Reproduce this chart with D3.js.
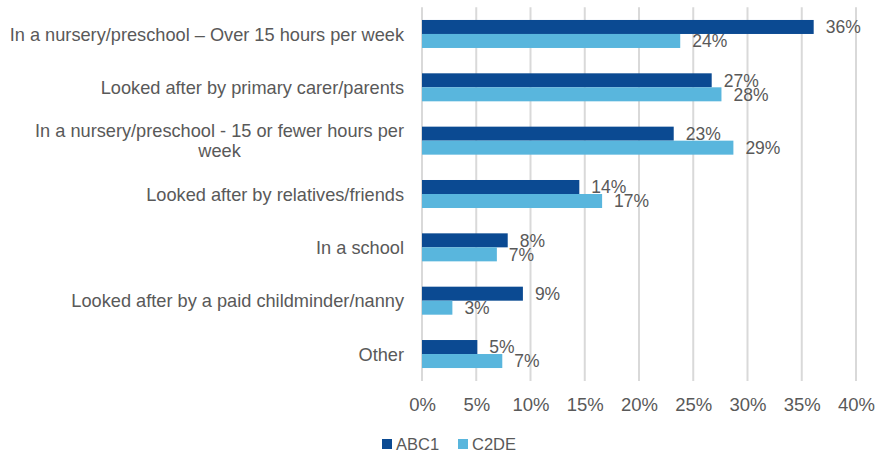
<!DOCTYPE html>
<html>
<head>
<meta charset="utf-8">
<script src="https://cdn.jsdelivr.net/npm/d3@7"></script>
<style>
  body { margin: 0; background: #fff; }
  svg text { font-family: "Liberation Sans", Arial, sans-serif; fill: #595959; }
</style>
</head>
<body>
<div id="chart"></div>
<script>
// categories, each as its label lines
var categories = [
  ["In a nursery/preschool \u2013 Over 15 hours per week"],
  ["Looked after by primary carer/parents"],
  ["In a nursery/preschool - 15 or fewer hours per", "week"],
  ["Looked after by relatives/friends"],
  ["In a school"],
  ["Looked after by a paid childminder/nanny"],
  ["Other"]
];
var seriesNames = ["ABC1", "C2DE"];
var abc1 = [0.361, 0.267, 0.232, 0.145, 0.079, 0.093, 0.051];
var c2de = [0.238, 0.276, 0.287, 0.166, 0.069, 0.028, 0.074];
var xTicks = [0, 0.05, 0.10, 0.15, 0.20, 0.25, 0.30, 0.35, 0.40];
var colors = ["#0b4a92", "#59b6dd"];

var width = 875, height = 452;
var svg = d3.select("#chart").append("svg")
  .attr("width", width)
  .attr("height", height);

var x = d3.scaleLinear().domain([0, 0.4]).range([422, 856]);
var y = d3.scaleBand()
  .domain(d3.range(categories.length))
  .range([7.3, 380.7])
  .paddingInner(0.475)
  .paddingOuter(0.2375);
var sub = d3.scaleBand().domain([0, 1]).range([0, y.bandwidth()]);

// gridlines
svg.append("g")
  .selectAll("line")
  .data(xTicks)
  .enter().append("line")
    .attr("x1", function(d){ return x(d); })
    .attr("x2", function(d){ return x(d); })
    .attr("y1", 7.3)
    .attr("y2", 381)
    .style("stroke", "#d9d9d9")
    .style("stroke-width", 2);

// x axis labels
var xAxis = d3.axisBottom(x).tickValues(xTicks).tickSize(0).tickPadding(0)
  .tickFormat(d3.format(".0%"));
var gx = svg.append("g").attr("transform", "translate(0,398)").call(xAxis);
gx.select(".domain").remove();
gx.selectAll("text").style("font-size", "18.5px").attr("font-family", null);

// bars
var data = categories.map(function(c, i){ return [abc1[i], c2de[i]]; });
var groups = svg.append("g").selectAll("g")
  .data(data)
  .enter().append("g")
    .attr("transform", function(d, i){ return "translate(0," + y(i) + ")"; });

groups.selectAll("rect")
  .data(function(d){ return d; })
  .enter().append("rect")
    .attr("x", x(0))
    .attr("y", function(d, j){ return sub(j); })
    .attr("width", function(d){ return x(d) - x(0); })
    .attr("height", sub.bandwidth())
    .attr("fill", function(d, j){ return colors[j]; });

groups.selectAll("text.val")
  .data(function(d){ return d; })
  .enter().append("text")
    .attr("class", "val")
    .attr("x", function(d){ return x(d) + 12; })
    .attr("y", function(d, j){ return sub(j) + sub.bandwidth() / 2; })
    .attr("dy", "0.36em")
    .style("font-size", "17.5px")
    .text(d3.format(".0%"));

// category labels
var labels = svg.append("g").selectAll("text")
  .data(categories)
  .enter().append("text")
    .style("font-size", "18.2px")
    .attr("y", function(d, i){ return y(i) + y.bandwidth() / 2; });

labels.each(function(lines){
  var t = d3.select(this);
  var first = t.append("tspan").attr("text-anchor", "end").attr("x", 404).text(lines[0]);
  var w = first.node().getComputedTextLength();
  var n = lines.length;
  first.attr("dy", (0.36 - (n - 1) * 0.55) + "em");
  for (var k = 1; k < n; k++) {
    t.append("tspan")
      .attr("text-anchor", "middle")
      .attr("x", 404 - w / 2)
      .attr("dy", "1.1em")
      .text(lines[k]);
  }
});

// legend
var legend = svg.append("g").selectAll("g")
  .data(seriesNames)
  .enter().append("g")
    .attr("transform", function(d, i){ return "translate(" + (382 + i * 76) + ",439)"; });
legend.append("rect")
  .attr("width", 10).attr("height", 10)
  .attr("fill", function(d, i){ return colors[i]; });
legend.append("text")
  .attr("x", 14).attr("y", 5).attr("dy", "0.36em")
  .style("font-size", "16.5px")
  .text(function(d){ return d; });
</script>
</body>
</html>
